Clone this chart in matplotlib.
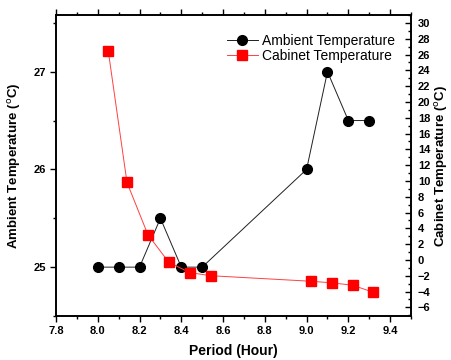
import matplotlib.pyplot as plt
from matplotlib.ticker import MultipleLocator

plt.rcParams['font.family'] = ['Liberation Sans', 'DejaVu Sans']

period_amb = [8.0, 8.1, 8.2, 8.3, 8.4, 8.5, 9.0, 9.1, 9.2, 9.3]
ambient = [25.0, 25.0, 25.0, 25.5, 25.0, 25.0, 26.0, 27.0, 26.5, 26.5]
period_cab = [8.05, 8.14, 8.24, 8.34, 8.44, 8.54, 9.02, 9.12, 9.22, 9.32]
cabinet = [26.5, 9.8, 3.2, -0.3, -1.6, -2.0, -2.7, -2.9, -3.2, -4.1]

fig = plt.figure(figsize=(4.51, 3.6), dpi=100)
ax = fig.add_axes([56/451, 1 - 316/360, (411-56)/451, (316-15)/360])
ax2 = ax.twinx()

l1, = ax.plot(period_amb, ambient, '-o', color='#202020', mfc='black', mec='black', lw=0.7, ms=7,
              label='Ambient Temperature')
l2, = ax2.plot(period_cab, cabinet, '-s', color='#ff4040', mfc='red', mec='red', lw=0.7, ms=6.5,
               label='Cabinet Temperature')

ax.set_xlim(7.8, 9.5)
ax.set_ylim(24.5, 27.58)
ax2.set_ylim(-7.1, 31.0)

ax.xaxis.set_minor_locator(MultipleLocator(0.1))
ax.yaxis.set_minor_locator(MultipleLocator(0.5))
ax2.yaxis.set_minor_locator(MultipleLocator(1))
ax.set_xticks([7.8, 8.0, 8.2, 8.4, 8.6, 8.8, 9.0, 9.2, 9.4])
ax.set_xticklabels(['7.8', '8.0', '8.2', '8.4', '8.6', '8.8', '9.0', '9.2', '9.4'])
ax.set_yticks([25, 26, 27])
ax2.set_yticks(range(-6, 31, 2))

ax.tick_params(axis='both', which='major', labelsize=8, length=4, width=1, direction='out', pad=3)
ax.tick_params(axis='both', which='minor', length=2, width=1, direction='out')
ax.tick_params(axis='x', which='both', top=True, bottom=True)
ax2.tick_params(axis='y', which='major', labelsize=8, length=4, width=1, direction='in', pad=5)
ax2.tick_params(axis='y', which='minor', length=2, width=1, direction='in')
for t in ax.get_xticklabels() + ax.get_yticklabels() + ax2.get_yticklabels():
    t.set_fontweight('bold')

for a in (ax, ax2):
    for s in a.spines.values():
        s.set_linewidth(1.2)

ax.set_xlabel('Period (Hour)', fontsize=10, fontweight='bold', labelpad=6)
ax.set_ylabel('Ambient Temperature ($^\\mathrm{o}$C)', fontsize=9.5, fontweight='bold', labelpad=8)
ax2.set_ylabel('Cabinet Temperature ($^\\mathrm{o}$C)', fontsize=9.5, fontweight='bold', labelpad=2)

ax.legend(handles=[l1, l2], loc='upper right', frameon=False, fontsize=10,
          bbox_to_anchor=(0.97, 0.955), handlelength=2.2, borderaxespad=0,
          labelspacing=0.05, handletextpad=0.3)

plt.savefig('out.png', dpi=100)
